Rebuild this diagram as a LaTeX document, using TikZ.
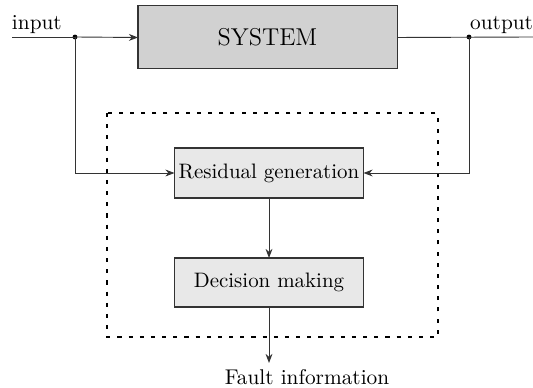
\documentclass[tikz,border=0pt]{standalone}
\usetikzlibrary{arrows.meta}
\begin{document}
\begin{tikzpicture}[x=0.4926pt,y=-0.4926pt,
  every node/.style={inner sep=0pt,outer sep=0pt},
  sysbox/.style={draw=black!80,fill=black!18,line width=0.5pt},
  blockbox/.style={draw=black!80,fill=black!9,line width=0.5pt},
  wire/.style={draw=black!80,line width=0.45pt},
  arr/.style={wire,-{Stealth[length=4.5pt,width=3.4pt]}},
  frame/.style={draw=black,line width=0.7pt,dash pattern=on 2pt off 3.5pt},
  junction/.style={circle,fill=black,minimum size=2.4pt,inner sep=0pt}]
  \useasboundingbox (0,0) rectangle (533,388);
  % main blocks
  \node[sysbox,minimum width=259*0.4926pt,minimum height=63*0.4926pt] (sys) at (267.5,37.5) {\large SYSTEM};
  \node[blockbox,minimum width=189*0.4926pt,minimum height=50*0.4926pt] (res) at (269,173) {\fontsize{10.3}{12}\selectfont Residual generation};
  \node[blockbox,minimum width=189*0.4926pt,minimum height=49*0.4926pt] (dec) at (269,282.5) {\fontsize{10.3}{12}\selectfont Decision making};
  % diagnosis frame
  \draw[frame] (107,113) rectangle (438,337);
  % signal taps
  \coordinate (in0) at (12,37);
  \coordinate (out1) at (533,37);
  \node[junction] (tapin) at (75,37) {};
  \node[junction] (tapout) at (469,37) {};
  \node[anchor=south west] (inlbl) at (12,34) {\fontsize{10.5}{12}\selectfont input};
  \node[anchor=south east] (outlbl) at (533,34) {\fontsize{10.5}{12}\selectfont output};
  \node[anchor=base] (fault) at (307,384) {\fontsize{10.5}{12}\selectfont Fault information};
  % connectors
  \draw[wire] (in0) -- (tapin.center);
  \draw[arr] (tapin.center) -- (sys.west);
  \draw[wire] (sys.east) -- (out1);
  \draw[arr] (tapin.center) |- (res.west);
  \draw[arr] (tapout.center) |- (res.east);
  \draw[arr] (res.south) -- (dec.north);
  \coordinate (fend) at (269,363);
  \draw[arr] (dec.south) -- (fend);
\end{tikzpicture}
\end{document}
